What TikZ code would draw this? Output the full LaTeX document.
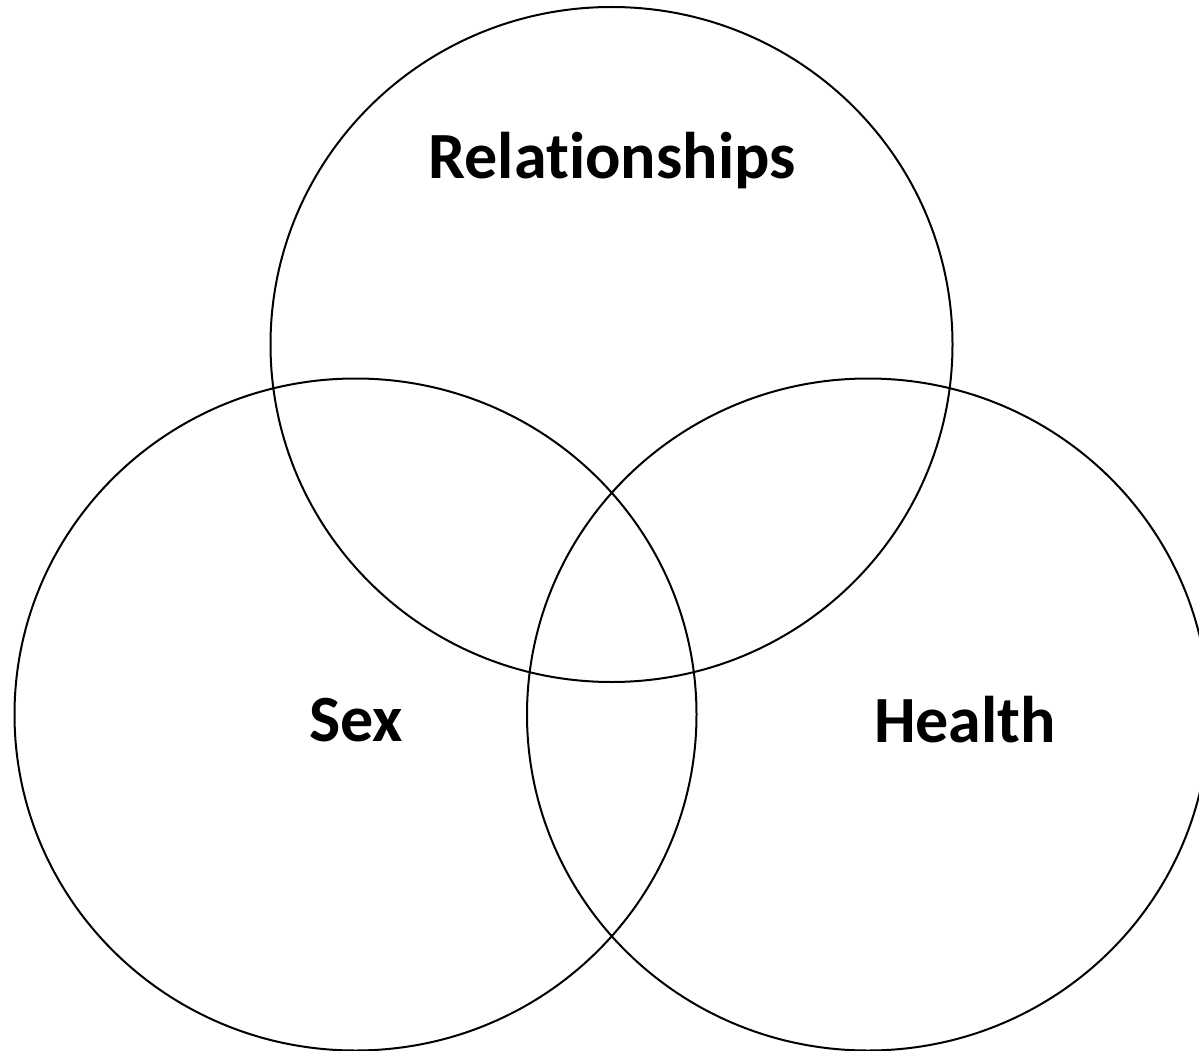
\documentclass[tikz,border=0pt]{standalone}
\usepackage{fontspec}
\setmainfont[Ligatures=NoCommon]{Carlito}
\begin{document}
\begin{tikzpicture}[x=1pt,y=1pt,
  ring/.style={draw=black,line width=2pt},
  lbl/.style={font=\fontsize{66}{70}\selectfont\bfseries,inner sep=0pt}]
\useasboundingbox (0,0) rectangle (1199,-1051);
\begin{scope}
\clip (0,0) rectangle (1199,-1051);
\draw[ring] (611.5,-344.5) ellipse [x radius=341, y radius=337.5];
\draw[ring] (355.5,-714.5) ellipse [x radius=341, y radius=336];
\draw[ring] (868,-714.5) ellipse [x radius=341, y radius=336];
\end{scope}
\node[lbl] (rel) at (612,-161) {Relationships};
\node[lbl] (sex) at (356,-720) {Sex};
\node[lbl] (hea) at (965,-720) {Health};
\end{tikzpicture}
\end{document}
